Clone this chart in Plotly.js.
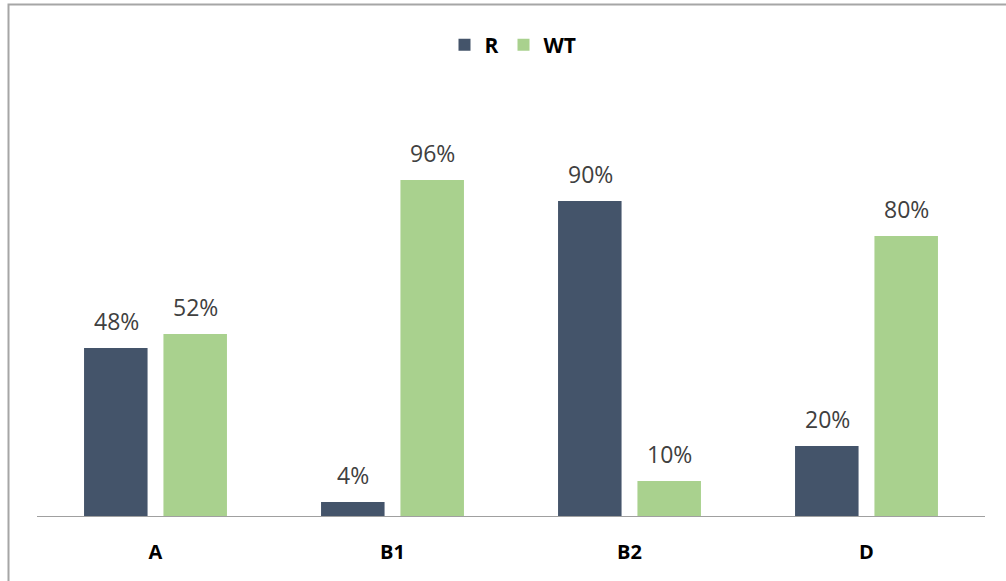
<!DOCTYPE html>
<html>
<head>
<meta charset="utf-8">
<script src="https://cdn.plot.ly/plotly-3.0.1.min.js"></script>
<style>
  html, body { margin: 0; padding: 0; background: #ffffff; }
  #chart { width: 1006px; height: 581px; }
</style>
</head>
<body>
<div id="chart"></div>
<script>
// Share of each genotype per group
const categories = ['A', 'B1', 'B2', 'D'];
const seriesNames = ['R', 'WT'];
const rValues = [48, 4, 90, 20];
const wtValues = [52, 96, 10, 80];
const seriesColors = ['#44546A', '#A9D18E'];

const valueSets = [rValues, wtValues];

const traces = valueSets.map((vals, i) => ({
  type: 'bar',
  name: seriesNames[i],
  x: categories,
  y: vals,
  marker: { color: seriesColors[i], line: { width: 0 } },
  hoverinfo: 'x+y+name'
}));

// Percentage labels above each bar, positioned from the bar values
const barOffset = 39.5;
const annotations = [];
valueSets.forEach((vals, i) => {
  vals.forEach((v, j) => {
    annotations.push({
      x: categories[j],
      y: v,
      xref: 'x',
      yref: 'y',
      text: v + '%',
      showarrow: false,
      xanchor: 'center',
      yanchor: 'bottom',
      xshift: i === 0 ? -barOffset : barOffset,
      yshift: 9,
      font: { family: 'Open Sans, sans-serif', size: 23, color: '#404040' }
    });
  });
});

// Outer frame of the chart area
const plotL = 37, plotR = 985, plotT = 96, plotB = 516;
const pw = plotR - plotL, ph = plotB - plotT;
const px = (p) => (p - plotL) / pw;
const py = (p) => (plotB - p) / ph;

const layout = {
  width: 1006,
  height: 581,
  margin: { l: plotL, r: 1006 - plotR, t: plotT, b: 581 - plotB, pad: 0 },
  paper_bgcolor: '#ffffff',
  plot_bgcolor: '#ffffff',
  barmode: 'group',
  bargap: 0.33,
  bargroupgap: 0.2,
  showlegend: true,
  legend: {
    orientation: 'h',
    x: px(513),
    xanchor: 'center',
    y: py(45),
    yanchor: 'middle',
    font: { family: 'Open Sans, sans-serif', size: 21, color: '#000000', weight: 'bold' },
    itemwidth: 30,
    bgcolor: 'rgba(0,0,0,0)'
  },
  xaxis: {
    type: 'category',
    showline: true,
    linecolor: '#A0A0A0',
    linewidth: 1,
    showgrid: false,
    zeroline: false,
    ticks: '',
    ticklabelstandoff: 18,
    tickfont: { family: 'Open Sans, sans-serif', size: 20, color: '#000000', weight: 'bold' },
    fixedrange: true
  },
  yaxis: {
    range: [0, 120],
    visible: false,
    showgrid: false,
    zeroline: false,
    fixedrange: true
  },
  annotations: annotations,
  shapes: [{
    type: 'rect',
    xref: 'paper',
    yref: 'paper',
    x0: px(8.5),
    x1: px(1012),
    y0: py(590),
    y1: py(4.5),
    line: { color: '#A6A6A6', width: 2 },
    fillcolor: 'rgba(0,0,0,0)',
    layer: 'above'
  }]
};

Plotly.newPlot('chart', traces, layout, { displayModeBar: false, staticPlot: true });
</script>
</body>
</html>
